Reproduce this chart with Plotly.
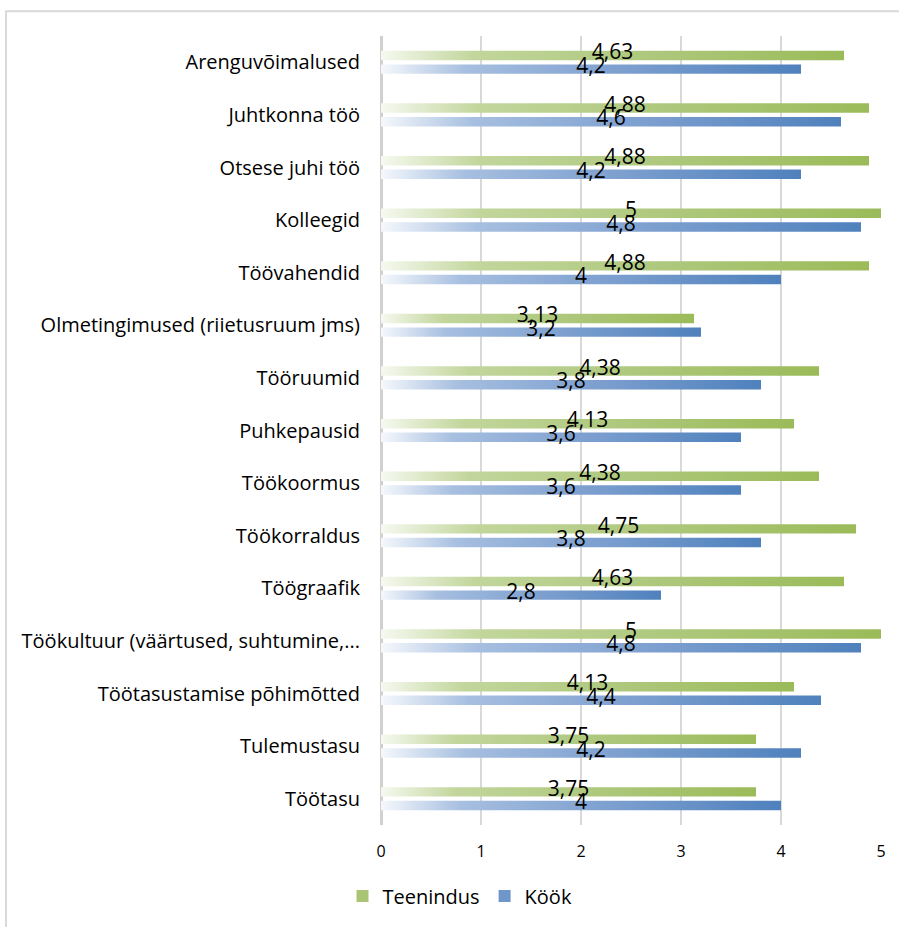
import plotly.graph_objects as go

# Survey categories (top to bottom) and average scores per group
categories = [
    "Arenguvõimalused",
    "Juhtkonna töö",
    "Otsese juhi töö",
    "Kolleegid",
    "Töövahendid",
    "Olmetingimused (riietusruum jms)",
    "Tööruumid",
    "Puhkepausid",
    "Töökoormus",
    "Töökorraldus",
    "Töögraafik",
    "Töökultuur (väärtused, suhtumine,...",
    "Töötasustamise põhimõtted",
    "Tulemustasu",
    "Töötasu",
]
teenindus = [4.63, 4.88, 4.88, 5, 4.88, 3.13, 4.38, 4.13, 4.38, 4.75, 4.63, 5, 4.13, 3.75, 3.75]
kook = [4.2, 4.6, 4.2, 4.8, 4, 3.2, 3.8, 3.6, 3.6, 3.8, 2.8, 4.8, 4.4, 4.2, 4]

x_ticks = [0, 1, 2, 3, 4, 5]

FONT = "'Open Sans', Lato, sans-serif"

# name, values, gradient stops (light -> full colour), legend swatch colour, offset within group
series = [
    ("Teenindus", teenindus,
     [[0, "#F6F9F0"], [0.2, "#C2D69C"], [0.55, "#AFC97F"], [1, "#9BBB59"]],
     "#A9C574", -0.13),
    ("Köök", kook,
     [[0, "#F5F8FC"], [0.2, "#A7BFE0"], [0.55, "#7FA1D0"], [1, "#4F81BD"]],
     "#6F95C9", 0.13),
]
BAR_H = 0.18


def fmt(v):
    return f"{v:g}".replace(".", ",")


fig = go.Figure()

# Bars as filled rectangles so each one carries its own left-to-right gradient
for name, values, stops, swatch, offset in series:
    for i, v in enumerate(values):
        y0 = i + offset - BAR_H / 2
        y1 = i + offset + BAR_H / 2
        fig.add_trace(go.Scatter(
            x=[0, v, v, 0, 0],
            y=[y0, y0, y1, y1, y0],
            mode="lines",
            line=dict(width=0, color=stops[-1][1]),
            fill="toself",
            fillcolor=stops[-1][1],
            fillgradient=dict(type="horizontal", colorscale=stops),
            name=name,
            showlegend=False,
            hoverinfo="skip",
        ))

# Legend entries drawn as square bar swatches
for name, values, stops, swatch, offset in series:
    fig.add_trace(go.Bar(
        x=[None], y=[None], orientation="h",
        name=name,
        marker=dict(color=swatch, line=dict(width=0)),
        showlegend=True,
        hoverinfo="skip",
    ))

# Value labels centred on each bar
for name, values, stops, swatch, offset in series:
    fig.add_trace(go.Scatter(
        x=[v / 2 for v in values],
        y=[i + offset - 0.03 for i in range(len(values))],
        mode="text",
        text=[fmt(v) for v in values],
        textposition="middle center",
        textfont=dict(family=FONT, size=21, color="#000000"),
        showlegend=False,
        hoverinfo="skip",
    ))

fig.update_layout(
    width=899,
    height=927,
    margin=dict(l=381, r=18, t=36, b=97),
    paper_bgcolor="white",
    plot_bgcolor="white",
    font=dict(family=FONT, color="#000000"),
    xaxis=dict(
        range=[0, 5],
        tickvals=x_ticks,
        ticktext=[str(t) for t in x_ticks],
        showgrid=True,
        gridcolor="#D9D9D9",
        gridwidth=1.5,
        zeroline=True,
        zerolinecolor="#D0D0D0",
        zerolinewidth=3,
        showline=False,
        ticks="",
        tickfont=dict(family=FONT, size=16, color="#000000"),
        ticklabelstandoff=15,
        fixedrange=True,
    ),
    yaxis=dict(
        range=[14.5, -0.5],
        tickvals=list(range(len(categories))),
        ticktext=categories,
        showgrid=False,
        zeroline=False,
        showline=False,
        ticks="",
        ticklabelstandoff=20,
        tickfont=dict(family=FONT, size=20, color="#000000"),
        fixedrange=True,
    ),
    legend=dict(
        orientation="h",
        x=0.158,
        xanchor="center",
        y=-0.09,
        yanchor="middle",
        font=dict(family=FONT, size=20, color="#000000"),
        itemwidth=30,
        tracegroupgap=10,
    ),
    shapes=[dict(
        type="rect",
        xref="paper", yref="paper",
        x0=-0.75, x1=1.06, y0=-0.2, y1=1.0315,
        line=dict(color="#D9D9D9", width=2),
        fillcolor="rgba(0,0,0,0)",
        layer="below",
    )],
)

fig.write_html("out.html")
